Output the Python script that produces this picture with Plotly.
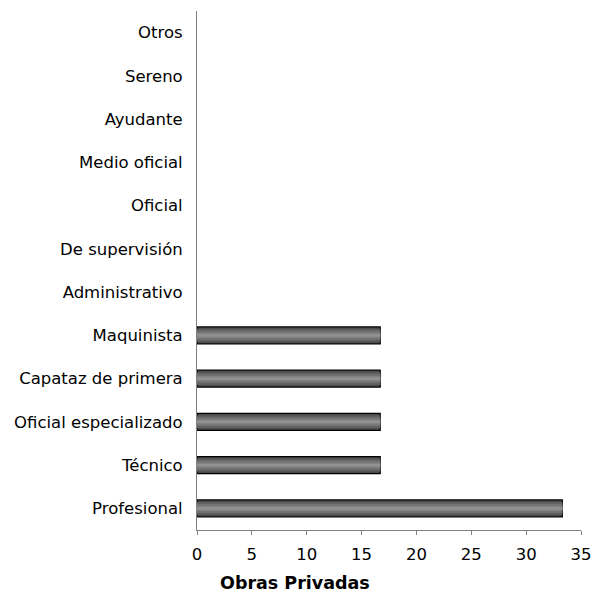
import plotly.graph_objects as go

categories = ["Profesional", "Técnico", "Oficial especializado", "Capataz de primera",
              "Maquinista", "Administrativo", "De supervisión", "Oficial",
              "Medio oficial", "Ayudante", "Sereno", "Otros"]
values = [33.3, 16.7, 16.7, 16.7, 16.7, 0, 0, 0, 0, 0, 0, 0]
x_ticks = [0, 5, 10, 15, 20, 25, 30, 35]

# shading layers to imitate the gradient fill (outer -> inner)
layer_widths = [0.39, 0.30, 0.21, 0.12, 0.05]
layer_colors = ["#4a4a4a", "#5e5e5e", "#717171", "#838383", "#929292"]

fig = go.Figure()
for i, (w, c) in enumerate(zip(layer_widths, layer_colors)):
    fig.add_trace(go.Bar(
        y=categories, x=values, orientation="h", width=w,
        marker=dict(color=c,
                    line=dict(color="#000000",
                              width=[1.2 if (i == 0 and v > 0) else 0 for v in values])),
        hoverinfo="x+y",
    ))

fig.update_layout(
    width=594, height=593, autosize=False,
    margin=dict(l=197, r=13, t=11, b=63, autoexpand=False),
    paper_bgcolor="white", plot_bgcolor="white",
    barmode="overlay", showlegend=False,
    font=dict(family="DejaVu Sans, Arial, sans-serif", size=16, color="black"),
    xaxis=dict(range=[0, 35], tickvals=x_ticks, showgrid=False, zeroline=False,
               showline=True, linecolor="#808080", linewidth=1, automargin=False,
               ticks="outside", ticklen=4, tickcolor="#808080",
               ticklabelstandoff=5, tickfont=dict(size=16.5)),
    yaxis=dict(categoryorder="array", categoryarray=categories, automargin=False,
               showgrid=False, zeroline=False, showline=True,
               linecolor="#808080", linewidth=1, ticks="", ticklabelstandoff=10,
               tickfont=dict(size=16.5)),
)
fig.add_annotation(text="<b>Obras Privadas</b>", xref="paper", yref="paper",
                   x=(295 - 197) / (594 - 197 - 13), y=-(583 - 530) / (593 - 11 - 63),
                   xanchor="center", yanchor="middle", showarrow=False,
                   font=dict(size=17.5))
fig.write_html("out.html", config={"displayModeBar": False},
               post_script="document.body.style.margin='0';document.body.style.overflow='hidden';")
